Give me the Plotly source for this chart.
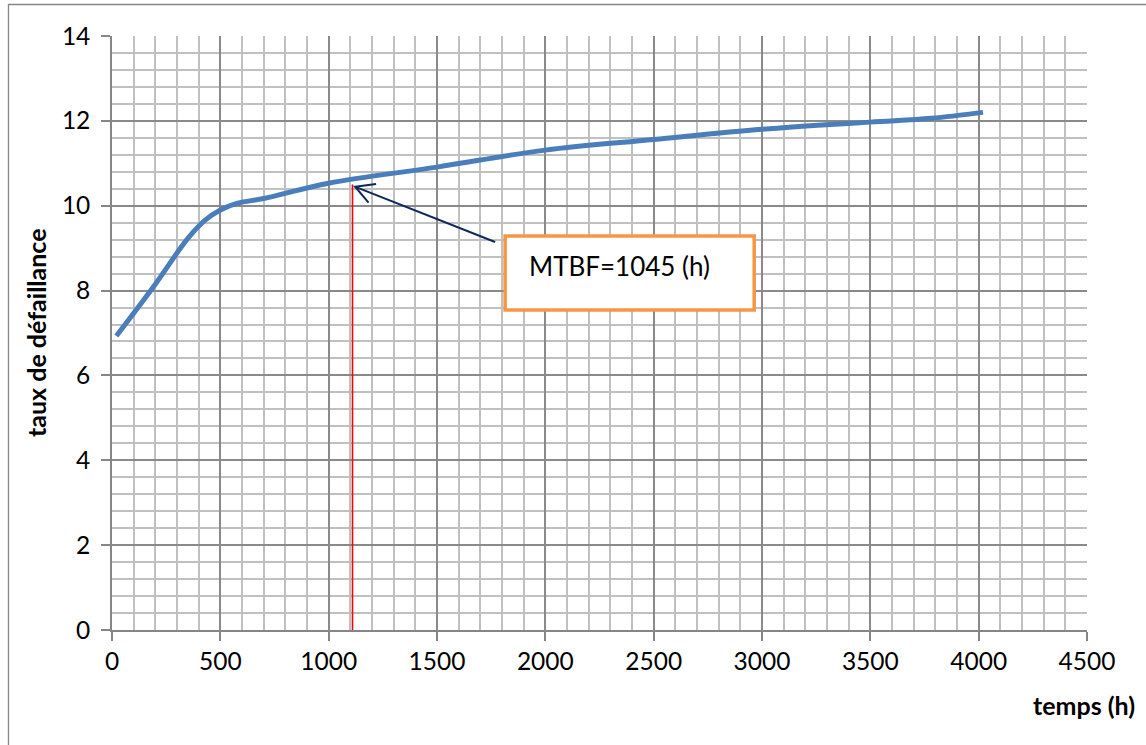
import plotly.graph_objects as go

# ---- data ----
temps = [20, 200, 350, 430, 500, 580, 700, 1000, 1500, 2000, 2500, 3000,
         3500, 3780, 4020]
taux = [6.93, 8.15, 9.23, 9.66, 9.90, 10.06, 10.17, 10.53, 10.91, 11.31,
        11.56, 11.80, 11.97, 12.06, 12.20]

mtbf_x = 1110          # position of the red vertical line
mtbf_y = 10.5
mtbf_label = "MTBF=1045 (h)"
x_title = "temps (h)"
y_title = "taux de défaillance"

FONT = "Lato, 'Open Sans', sans-serif"
W, H = 1146, 745
L, R, T, B = 112, 59.3, 36, 115
PW, PH = W - L - R, H - T - B
XMAX, YMAX = 4500, 14


def px2x(px):
    return (px - L) / PW * XMAX


def px2y(py):
    return (H - B - py) / PH * YMAX


fig = go.Figure()
fig.add_trace(go.Scatter(
    x=temps, y=taux, mode="lines",
    line=dict(color="#4A7EBB", width=5, shape="spline", smoothing=1.0),
    showlegend=False, hoverinfo="x+y"))

axis_common = dict(
    showline=True, linecolor="#868686", linewidth=1.6,
    showgrid=True, gridcolor="#8A8A8A", gridwidth=1.6,
    ticks="outside", ticklen=9, tickcolor="#868686", tickwidth=1.6,
    tickfont=dict(family=FONT, size=24.5, color="#000000"),
    zeroline=False, layer="below traces",
)

fig.update_xaxes(range=[0, XMAX], dtick=500, tick0=0,
                 minor=dict(dtick=100, showgrid=True, gridcolor="#C0C0C0",
                            gridwidth=1.6, ticks=""),
                 **axis_common)
fig.update_yaxes(range=[0, YMAX], dtick=2, tick0=0,
                 minor=dict(dtick=0.4, showgrid=True, gridcolor="#C0C0C0",
                            gridwidth=1.6, ticks=""),
                 ticklabelstandoff=6, **axis_common)

ARROW = "#10275C"
head = (355, 186.7)
tail = (495, 242)
arm1 = (376, 184)
arm2 = (368.5, 202.7)

shapes = [
    # outer chart border
    dict(type="rect", xref="paper", yref="paper",
         x0=(8.5 - L) / PW, x1=(1160 - L) / PW,
         y0=(H - B - 760) / PH, y1=(H - B - 4.5) / PH,
         line=dict(color="#868686", width=1.3), fillcolor="rgba(0,0,0,0)",
         layer="below"),
    # red MTBF line
    dict(type="line", xref="x", yref="y", x0=mtbf_x, x1=mtbf_x,
         y0=0, y1=mtbf_y, line=dict(color="#FF0000", width=1.6)),
    # label box
    dict(type="rect", xref="x", yref="y", x0=px2x(505), x1=px2x(754),
         y0=px2y(310), y1=px2y(236),
         line=dict(color="#F79646", width=3.5), fillcolor="#FFFFFF"),
    # arrow shaft and head
    dict(type="line", xref="x", yref="y", x0=px2x(tail[0]), y0=px2y(tail[1]),
         x1=px2x(head[0] + 1), y1=px2y(head[1] + 0.4),
         line=dict(color=ARROW, width=2)),
    dict(type="path", xref="x", yref="y",
         path="M {},{} L {},{} L {},{}".format(
             px2x(arm1[0]), px2y(arm1[1]), px2x(head[0]), px2y(head[1]),
             px2x(arm2[0]), px2y(arm2[1])),
         line=dict(color=ARROW, width=2)),
]

annotations = [
    dict(x=px2x(527), y=px2y(266), xref="x", yref="y", text=mtbf_label,
         showarrow=False, xanchor="left", yanchor="middle",
         font=dict(family=FONT, size=26, color="#000000")),
    dict(x=(1137 - L) / PW, y=(H - B - 705) / PH,
         xref="paper", yref="paper", text="<b>" + x_title + "</b>",
         showarrow=False, xanchor="right", yanchor="middle",
         font=dict(family=FONT, size=25, color="#000000")),
    dict(x=(36 - L) / PW, y=(H - B - 332) / PH,
         xref="paper", yref="paper", text="<b>" + y_title + "</b>",
         textangle=-90, showarrow=False, xanchor="center", yanchor="middle",
         font=dict(family=FONT, size=25, color="#000000")),
]

fig.update_layout(
    width=W, height=H, autosize=False,
    margin=dict(l=L, r=R, t=T, b=B, pad=0),
    paper_bgcolor="#FFFFFF", plot_bgcolor="#FFFFFF",
    shapes=shapes, annotations=annotations, showlegend=False,
    font=dict(family=FONT),
)

fig.write_html("out.html", include_plotlyjs=True, config={"displayModeBar": False})
